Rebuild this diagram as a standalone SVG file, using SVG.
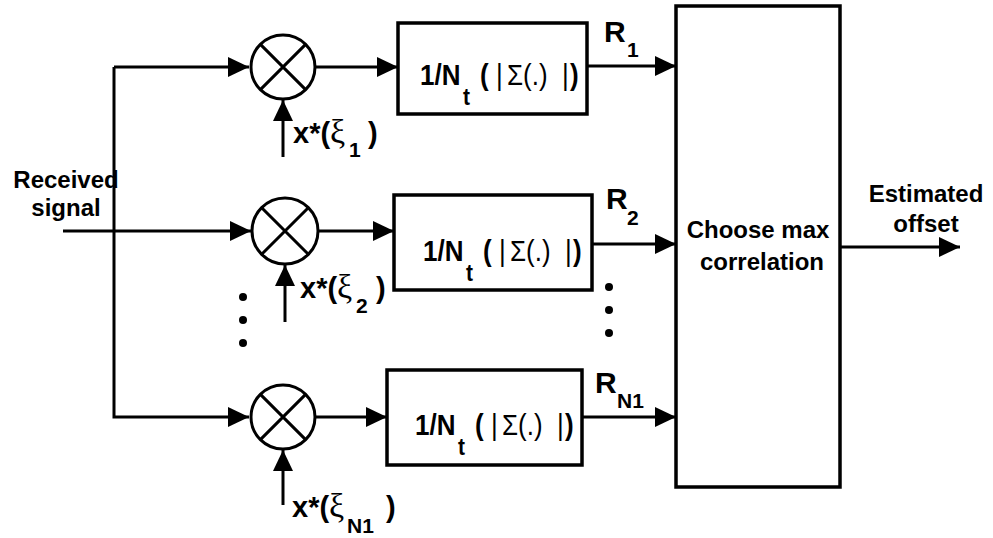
<svg xmlns="http://www.w3.org/2000/svg" width="993" height="538" viewBox="0 0 993 538">
<style>
.ln{fill:none;stroke:#000;stroke-width:3}
.bx{fill:#fff;stroke:#000;stroke-width:3.5}
.b{font-family:"Liberation Sans",Arial,sans-serif;font-weight:bold;fill:#000}
.r{font-family:"Liberation Sans",Arial,sans-serif;font-weight:normal;fill:#000}
.g{font-family:"Liberation Serif","DejaVu Serif",serif;font-weight:normal;fill:#000;font-size:34px}
.m{font-size:26px}
.s{font-size:21px}
.lb{font-size:24px}
.xl{font-size:29px}
.rl{font-size:30px}
.dot{fill:#000}
</style>
<defs>
<marker id="ah" markerUnits="userSpaceOnUse" markerWidth="22" markerHeight="22" refX="21" refY="10" orient="auto">
<path d="M0,0 L21,10 L0,20 Z" fill="#000"/>
</marker>
</defs>

<g id="connectors">
<path class="ln" d="M114,67 H249" marker-end="url(#ah)"/>
<path class="ln" d="M114,67 V417 H249" marker-end="url(#ah)"/>
<path class="ln" d="M63,231 H251" marker-end="url(#ah)"/>
<path class="ln" d="M315,67 H398" marker-end="url(#ah)"/>
<path class="ln" d="M318,231 H394" marker-end="url(#ah)"/>
<path class="ln" d="M315,417 H387" marker-end="url(#ah)"/>
<path class="ln" d="M283,157 V100" marker-end="url(#ah)"/>
<path class="ln" d="M285,322 V265" marker-end="url(#ah)"/>
<path class="ln" d="M283,505 V450" marker-end="url(#ah)"/>
<path class="ln" d="M587,66 H676" marker-end="url(#ah)"/>
<path class="ln" d="M592,244 H676" marker-end="url(#ah)"/>
<path class="ln" d="M582,417 H676" marker-end="url(#ah)"/>
<path class="ln" d="M840,247 H960" marker-end="url(#ah)"/>
</g>

<g id="mult1">
<circle class="ln" cx="283" cy="67" r="32"/>
<path class="ln" d="M260.4,44.4 L305.6,89.6 M305.6,44.4 L260.4,89.6"/>
</g>
<g id="mult2">
<circle class="ln" cx="285" cy="231" r="33"/>
<path class="ln" d="M261.7,207.7 L308.3,254.3 M308.3,207.7 L261.7,254.3"/>
</g>
<g id="mult3">
<circle class="ln" cx="283" cy="417" r="32"/>
<path class="ln" d="M260.4,394.4 L305.6,439.6 M305.6,394.4 L260.4,439.6"/>
</g>

<g id="sum1">
<rect class="bx" x="398" y="23" width="189" height="91"/>
<g transform="translate(420,85) scale(1,1.15)">
<text class="b m" x="0" y="0">1/N</text>
<text class="b s" x="43" y="17.4">t</text>
<text class="b m" x="60" y="0">(</text>
<text class="r m" x="76" y="0">|</text>
<text class="r m" x="87" y="0">Σ(.)</text>
<text class="r m" x="142" y="0">|</text>
<text class="b m" x="150" y="0">)</text>
</g>
</g>
<g id="sum2">
<rect class="bx" x="394" y="195" width="198" height="95"/>
<g transform="translate(423,261) scale(1,1.15)">
<text class="b m" x="0" y="0">1/N</text>
<text class="b s" x="43" y="17.4">t</text>
<text class="b m" x="60" y="0">(</text>
<text class="r m" x="76" y="0">|</text>
<text class="r m" x="87" y="0">Σ(.)</text>
<text class="r m" x="142" y="0">|</text>
<text class="b m" x="150" y="0">)</text>
</g>
</g>
<g id="sum3">
<rect class="bx" x="387" y="370" width="195" height="95"/>
<g transform="translate(415,435) scale(1,1.15)">
<text class="b m" x="0" y="0">1/N</text>
<text class="b s" x="43" y="17.4">t</text>
<text class="b m" x="60" y="0">(</text>
<text class="r m" x="76" y="0">|</text>
<text class="r m" x="87" y="0">Σ(.)</text>
<text class="r m" x="142" y="0">|</text>
<text class="b m" x="150" y="0">)</text>
</g>
</g>

<g id="chooser">
<rect class="bx" x="676" y="6" width="164" height="481"/>
<text class="b lb" x="758" y="238" text-anchor="middle">Choose max</text>
<text class="b lb" x="762" y="270" text-anchor="middle">correlation</text>
</g>

<g id="input-label">
<text class="b lb" x="66" y="188" text-anchor="middle">Received</text>
<text class="b lb" x="66" y="216" text-anchor="middle">signal</text>
</g>

<g id="output-label">
<text class="b lb" x="926" y="202" text-anchor="middle">Estimated</text>
<text class="b lb" x="926" y="232" text-anchor="middle">offset</text>
</g>

<g id="ref1">
<text class="b xl" x="293" y="143">x*(</text>
<text class="g" x="330" y="143">ξ</text>
<text class="b s" x="349" y="157">1</text>
<text class="b xl" x="368" y="143">)</text>
</g>
<g id="ref2">
<text class="b xl" x="300" y="298">x*(</text>
<text class="g" x="337" y="298">ξ</text>
<text class="b s" x="356" y="313">2</text>
<text class="b xl" x="376" y="298">)</text>
</g>
<g id="ref3">
<text class="b xl" x="292" y="517">x*(</text>
<text class="g" x="329" y="517">ξ</text>
<text class="b s" x="347" y="533">N1</text>
<text class="b xl" x="386" y="517">)</text>
</g>

<g id="r-labels">
<text class="b rl" x="604" y="42">R</text>
<text class="b s" x="627" y="57">1</text>
<text class="b rl" x="606" y="209">R</text>
<text class="b s" x="627" y="225">2</text>
<text class="b rl" x="595" y="393">R</text>
<text class="b s" x="617" y="408">N1</text>
</g>

<g id="dots">
<circle class="dot" cx="243" cy="297" r="4"/>
<circle class="dot" cx="243" cy="320" r="4"/>
<circle class="dot" cx="243" cy="343" r="4"/>
<circle class="dot" cx="609" cy="287" r="4"/>
<circle class="dot" cx="609" cy="310" r="4"/>
<circle class="dot" cx="609" cy="333" r="4"/>
</g>
</svg>
